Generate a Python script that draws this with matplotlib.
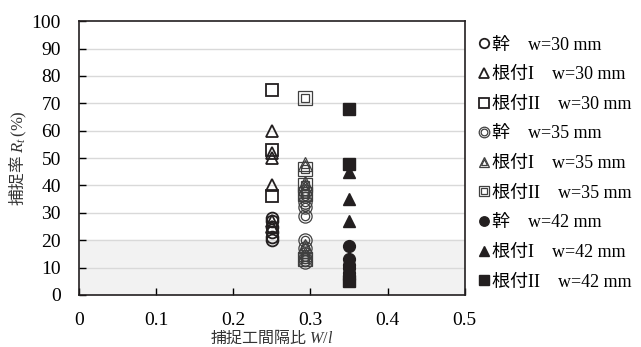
import numpy as np
import matplotlib.pyplot as plt
from matplotlib.legend_handler import HandlerTuple

plt.rcParams['font.family'] = ['Liberation Serif', 'Noto Sans CJK JP']
plt.rcParams['mathtext.fontset'] = 'custom'
plt.rcParams['mathtext.it'] = 'Liberation Serif:italic'
plt.rcParams['mathtext.rm'] = 'Liberation Serif'

# capture ratio data (W/l, Rt %)
x30 = 0.25
x35 = 0.293
x42 = 0.35
trunk30 = [28, 27, 25, 23, 21, 20]
root1_30 = [60, 52, 50, 40, 27, 25]
root2_30 = [75, 53, 36]
trunk35 = [38, 36, 34, 32, 29, 20, 17, 15, 13, 12]
root1_35 = [48, 41, 39, 18, 15]
root2_35 = [72, 46, 40, 37, 13]
trunk42 = [18, 13, 11, 10, 8, 6]
root1_42 = [45, 35, 27]
root2_42 = [68, 48, 5]

labels = ['幹\u3000w=30 mm', '根付I\u3000w=30 mm', '根付II\u3000w=30 mm',
          '幹\u3000w=35 mm', '根付I\u3000w=35 mm', '根付II\u3000w=35 mm',
          '幹\u3000w=42 mm', '根付I\u3000w=42 mm', '根付II\u3000w=42 mm']

dark = '#231f20'
gray = '#404040'

fig = plt.figure(figsize=(6.41, 3.47), dpi=100)
ax = fig.add_axes([0.123, 0.150, 0.602, 0.789])

ax.axhspan(0, 20, color='#f2f2f2', zorder=0)
for yv in range(10, 100, 10):
    ax.axhline(yv, color='#d9d9d9', lw=1, zorder=1)

handles = []
# w=30: hollow markers
for vals, m in [(trunk30, 'o'), (root1_30, '^'), (root2_30, 's')]:
    h, = ax.plot([x30] * len(vals), vals, ls='none', marker=m, ms=8.5,
                 mfc='none', mec=dark, mew=1.3, zorder=3)
    handles.append(h)
# w=35: double outline markers
for vals, m in [(trunk35, 'o'), (root1_35, '^'), (root2_35, 's')]:
    h1, = ax.plot([x35] * len(vals), vals, ls='none', marker=m, ms=9.5,
                  mfc='none', mec=gray, mew=0.9, zorder=3)
    h2, = ax.plot([x35] * len(vals), vals, ls='none', marker=m, ms=6,
                  mfc='none', mec=gray, mew=0.9, zorder=3)
    handles.append((h1, h2))
# w=42: filled markers
for vals, m in [(trunk42, 'o'), (root1_42, '^'), (root2_42, 's')]:
    h, = ax.plot([x42] * len(vals), vals, ls='none', marker=m, ms=8.5,
                 mfc=dark, mec=dark, mew=1, zorder=3)
    handles.append(h)

ax.set_xlim(0, 0.5)
ax.set_ylim(0, 100)
ax.set_xticks(np.arange(0, 0.51, 0.1))
ax.set_xticklabels(['0', '0.1', '0.2', '0.3', '0.4', '0.5'])
ax.set_yticks(range(0, 101, 10))
ax.tick_params(direction='in', length=5, width=1, labelsize=14,
               colors='black')
ax.tick_params(axis='y', pad=13)
ax.tick_params(axis='x', pad=12)
for sp in ax.spines.values():
    sp.set_linewidth(1.2)
    sp.set_color(dark)

ax.set_xlabel('捕捉工間隔比 $W/l$', fontsize=11.5, color='#333333',
              family='Noto Sans CJK JP', labelpad=0)
ax.set_ylabel(r'捕捉率 $R_t\,\mathrm{(\%)}$', fontsize=12, color='#333333',
              family='Noto Sans CJK JP', labelpad=2)

leg = ax.legend(handles, labels, loc='upper left', bbox_to_anchor=(1.0, 0.99),
                frameon=False, fontsize=13, handlelength=0.7,
                handletextpad=0.1, labelspacing=0.70, borderaxespad=0.3,
                handler_map={tuple: HandlerTuple(ndivide=1)},
                markerscale=0.8)

fig.savefig('out.png', dpi=100)
